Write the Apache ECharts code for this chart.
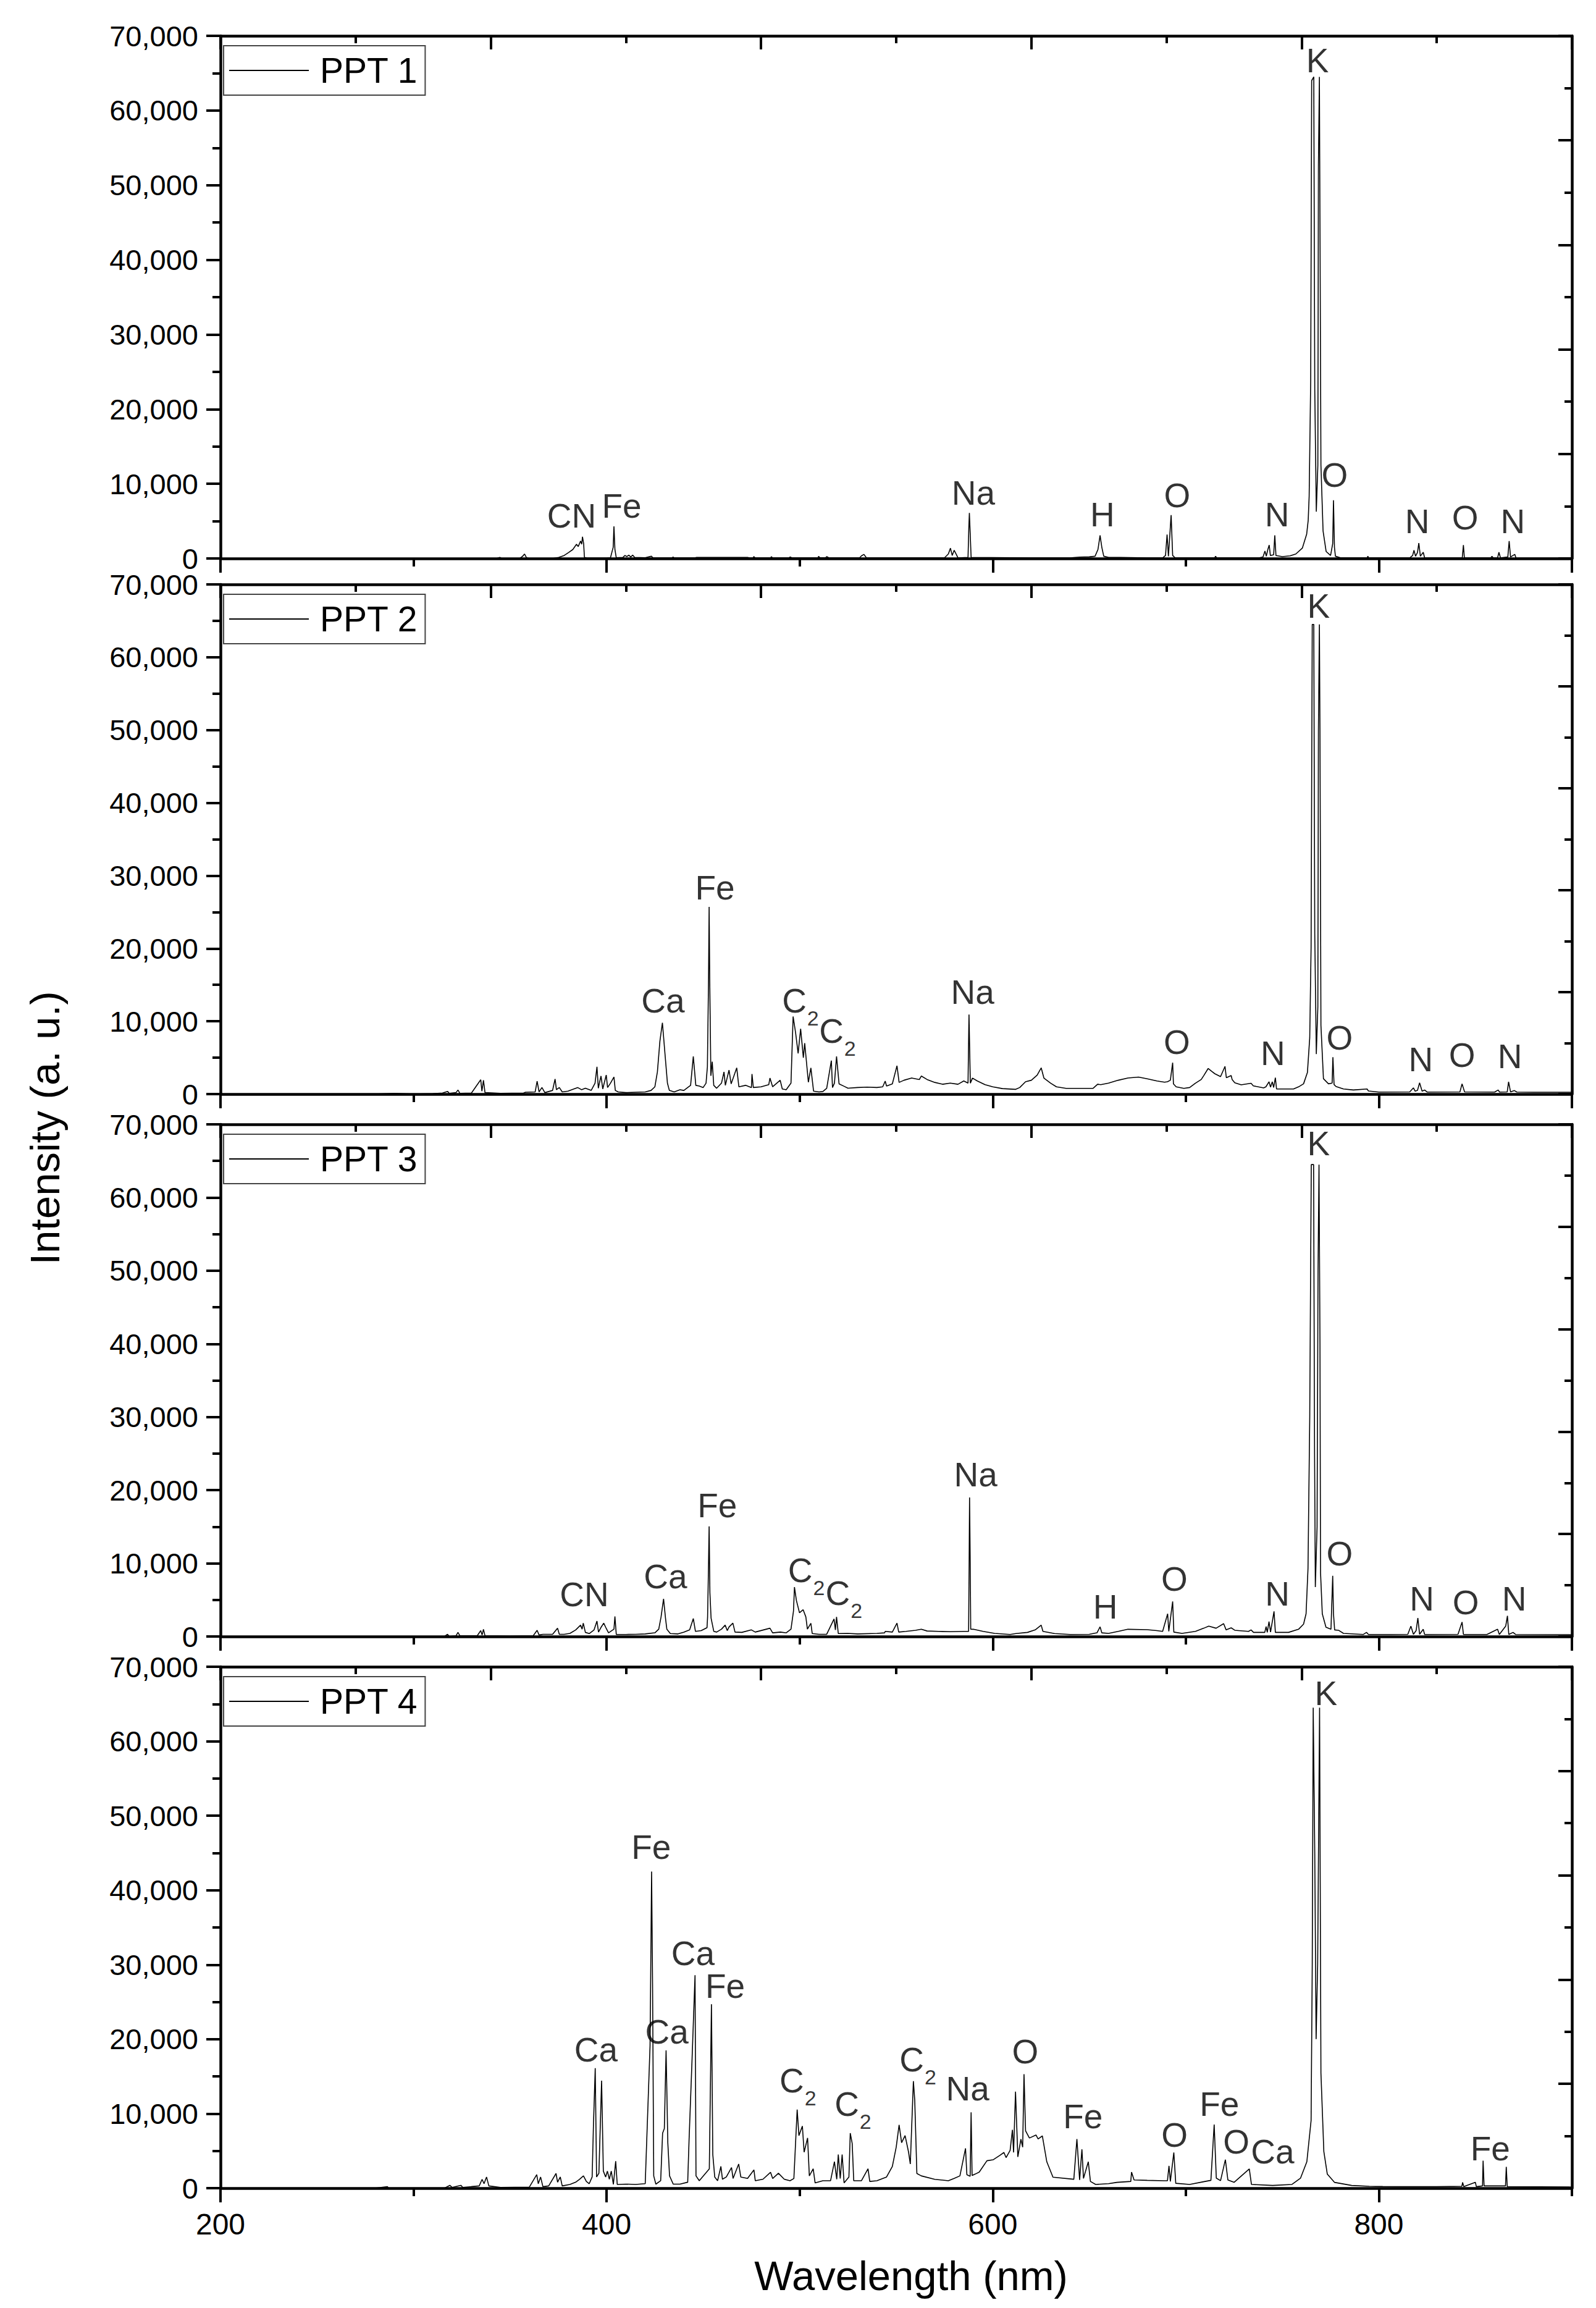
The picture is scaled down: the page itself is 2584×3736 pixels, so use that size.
<!DOCTYPE html>
<html>
<head>
<meta charset="utf-8">
<title>LIBS spectra PPT 1-4</title>
<script src="https://cdn.jsdelivr.net/npm/echarts@6/dist/echarts.min.js"></script>
<style>
  html, body { margin: 0; padding: 0; background: #fff; }
  #main { width: 2584px; height: 3736px; }
</style>
</head>
<body>
<div id="main"></div>
<script>
// axis ticks
const wavelengthTicks = [200, 400, 600, 800];
const intensityTicks = [0, 10000, 20000, 30000, 40000, 50000, 60000, 70000];
const seriesNames = ['PPT 1', 'PPT 2', 'PPT 3', 'PPT 4'];

// spectra, [wavelength nm, intensity a.u.]
const ppt1 = [[200,0],[300,0],[343,0],[344.7,150],[345.5,0],[355,0],[356.5,300],[357.5,600],[358.5,100],[360,0],[372,0],[375.2,150],[378,400],[380.3,800],[382.5,1200],[384.4,1900],[385.3,1600],[386.5,2340],[387.1,1900],[387.5,2900],[388.1,2000],[388.5,150],[390,60],[400,60],[402,100],[403.4,1500],[403.8,4300],[404.3,1200],[405,100],[408.5,150],[409.5,400],[410.5,250],[411.5,450],[412.5,200],[413.5,450],[414.5,150],[420,100],[423.2,300],[424,80],[434,80],[434.4,200],[435,80],[446,100],[446.6,150],[473,150],[474,80],[476,80],[476.2,250],[477,80],[485,80],[485.3,250],[486,80],[494.5,80],[495,200],[496,80],[509.5,100],[509.8,280],[510.5,100],[513.5,120],[514,250],[515,100],[531,80],[532,350],[533.3,550],[534.5,100],[575,80],[577,600],[578.1,1375],[579,400],[580,1100],[581.2,500],[582,80],[587.2,150],[587.6,4000],[587.9,6100],[588.3,3500],[588.8,150],[620,80],[640,80],[645,180],[650,220],[653,300],[654.5,1200],[655.6,3100],[656.5,1500],[657.5,300],[660,150],[666,150],[680,80],[688,80],[689.5,400],[690.3,3200],[691,300],[692.4,5800],[693.2,400],[694.5,80],[715,80],[715.4,300],[716,80],[738,80],[740,200],[741,1000],[741.7,300],[742.5,1200],[743.2,1800],[743.8,400],[745.5,500],[746.1,3100],[746.7,400],[750,250],[754,350],[757,600],[760.4,1400],[762.6,3240],[763.4,5100],[763.9,8340],[764.7,23860],[765.2,64000],[766.3,64500],[766.8,22700],[767.6,6260],[768.4,12500],[768.7,52600],[769.2,64500],[769.4,51400],[770,12500],[771.1,3700],[772.7,930],[775,400],[776.1,2000],[776.5,7800],[777,1500],[777.5,300],[780,100],[794,80],[794.3,300],[794.7,80],[816,80],[817.5,400],[818.2,1100],[819,300],[820,800],[820.7,2060],[821.5,300],[823,825],[823.7,80],[843.2,80],[843.8,1790],[844.3,80],[858,80],[858.6,300],[859.2,80],[861.5,80],[862.2,825],[863,80],[866.8,200],[867.5,2340],[868.2,200],[870.4,550],[871,80],[900,50]];

const ppt2 = [[200,0],[280,0],[290,100],[300,0],[310,50],[315,150],[317.6,370],[318.5,100],[322,200],[323,560],[324,100],[330,150],[334.8,1970],[335.4,400],[336.2,1900],[337,200],[345,100],[357,150],[358,250],[363,300],[364,1780],[365,300],[366.5,900],[368,200],[372,500],[373.3,2060],[374,600],[375.5,900],[377,300],[380,400],[383,700],[385,900],[387,600],[389,800],[392,500],[394,1500],[395,3750],[395.7,800],[396.5,1800],[397.1,2480],[398,700],[399.8,2620],[400.5,900],[402,1500],[403.8,2340],[404.5,500],[406,300],[410,200],[415,250],[420,300],[423,500],[425,1000],[426.3,3040],[427.6,7270],[428.9,9800],[430.3,5300],[431.5,1500],[432.5,500],[435,300],[438,600],[440,500],[442,900],[443.5,1200],[444.9,5160],[446.2,1200],[448,1100],[450,900],[451.5,1500],[452.2,3750],[452.8,15900],[453.1,25700],[453.4,15900],[454,2500],[454.7,4450],[455.5,1200],[457,800],[459.5,1500],[460.8,3040],[461.5,1200],[463.4,3300],[464.5,1400],[467.4,3600],[468.5,1000],[472,1200],[475,900],[475.3,2760],[476,900],[480,1000],[484,1300],[484.6,2200],[486,1000],[489.9,1900],[491,700],[493,600],[495.5,1500],[496.6,10650],[497.9,8400],[499.2,5580],[500.5,8960],[501.9,5000],[502.6,7000],[504.5,1630],[505.8,3600],[507.2,400],[510,300],[512,350],[514,800],[516.4,4590],[517,900],[518,1500],[519.1,5160],[520.4,1400],[523,1070],[525,800],[530,900],[535,950],[540,900],[543,1000],[544.3,1780],[545,1100],[548,1400],[550.4,3890],[551.5,1600],[554,1900],[558,2200],[562,2000],[563,2480],[566,2000],[570,1600],[574,1350],[578,1500],[582,1350],[585,1800],[587.2,1500],[587.7,10930],[588.4,1500],[589.5,2200],[592,1800],[596,1300],[600,1000],[605,750],[611.9,650],[614,900],[617,1700],[620,1900],[623,2600],[625.1,3600],[626.5,2200],[630,1500],[633,1000],[638,790],[645,790],[652,790],[654.3,1350],[656,1300],[660,1500],[665,1900],[670,2200],[675.5,2340],[680,2100],[685,1800],[689,1630],[690.5,1700],[692,1900],[693.2,4310],[693.6,1400],[695,1000],[699,790],[702,900],[705,1500],[708,2000],[709.3,2540],[711.6,3520],[712.6,3300],[713.5,3100],[715,2800],[718,2400],[720.3,3800],[721,2250],[723.5,2540],[724,2000],[725.4,1550],[728.7,1270],[733.8,1490],[735,1130],[740.3,850],[741.5,1000],[743.1,1690],[743.9,950],[744.8,1690],[745.5,900],[746.4,2250],[747,700],[755.8,700],[758.4,990],[761,1410],[763,2960],[764.2,7750],[764.9,20150],[765.5,64500],[766.3,64500],[766.8,22000],[767.6,5500],[768.4,12000],[768.7,50000],[769.2,64500],[769.5,50000],[770,9440],[771.3,2110],[773.9,1410],[775.8,1500],[776.2,5070],[776.8,1300],[777.8,1040],[781.7,700],[786.8,560],[793.9,700],[794.6,420],[800,280],[816,300],[817.9,850],[818.8,400],[820,500],[821.1,1550],[822.4,400],[823.7,560],[825,280],[842,300],[843.1,1410],[844.4,300],[860,280],[861.8,560],[862.5,280],[866.5,300],[867.2,1690],[868.2,300],[870.2,480],[871.5,280],[880,250],[900,250]];

const ppt3 = [[200,0],[300,0],[316,0],[317.6,300],[318.5,0],[322,100],[323,560],[324,100],[333,100],[334.8,800],[335.5,200],[336.2,985],[337,100],[350,50],[362,100],[364,845],[365,200],[367,300],[372,300],[374.6,1130],[375.5,300],[378,300],[381,420],[384,900],[386.5,1550],[387.3,1000],[387.9,1830],[389,560],[391,400],[393.5,900],[395,2110],[395.8,600],[397,1200],[398.5,1830],[399.8,1100],[401,500],[403.8,1000],[404.3,2730],[405,280],[410,280],[415,300],[420,350],[425,500],[427,1000],[428.2,2670],[429.5,5150],[430.5,2500],[431.2,985],[433,400],[437,350],[440,600],[443,900],[444.9,2450],[446,700],[449,800],[452,1200],[452.3,2670],[452.8,10000],[453.1,15060],[453.5,6000],[454.1,2530],[455.5,700],[457,600],[459.5,1000],[461.4,1550],[462.5,800],[463.4,1300],[465.4,1830],[466.5,600],[470,560],[475,900],[477,600],[484.6,1130],[486,500],[490,600],[493,500],[495.5,1000],[496.8,3500],[497.3,6750],[498.3,4930],[499.9,3240],[501.8,3660],[503.2,2670],[504,1000],[505.8,1800],[506.5,400],[510,300],[514,300],[517.8,2390],[518.5,900],[519.1,2670],[520,400],[525,420],[530,350],[540,420],[544,500],[544.3,700],[548,600],[550.4,1830],[551.3,600],[555,700],[560,850],[563,985],[566,750],[572,700],[578,650],[585,700],[587.5,700],[587.8,11000],[588,19000],[588.3,11000],[588.6,1000],[590,985],[595,700],[601,420],[609,280],[612,400],[618,560],[622,900],[625.1,1550],[626,700],[632,400],[640,280],[650,300],[654,500],[655.6,1320],[656.5,500],[660,420],[665,700],[670,985],[680,930],[685,800],[688,700],[690.6,3100],[691.2,700],[693.2,4790],[693.8,600],[698,420],[705,700],[709.3,1130],[711.9,1410],[715.7,1130],[719.6,1750],[720.9,900],[723.5,1180],[725.4,850],[732.5,700],[733.8,900],[735.1,560],[740.9,560],[741.6,1350],[742.2,560],[743.1,2030],[743.9,600],[745.7,3430],[746.4,560],[753.2,560],[758.4,985],[761,1690],[762.3,3100],[763.3,9290],[764.2,30000],[765,64500],[766.2,64500],[766.7,25000],[767.1,6760],[768,15000],[768.5,50000],[769,64500],[769.5,40000],[769.8,8700],[770.7,3100],[772.6,1270],[775.2,985],[776.1,8300],[776.5,3100],[777.1,900],[779.1,850],[781.7,420],[792,280],[793.6,560],[794.6,280],[805.6,280],[815,300],[816.6,1410],[817.9,300],[819.3,800],[820.2,2530],[821.1,300],[823,985],[823.7,280],[841,300],[843.1,1970],[843.8,280],[856,280],[861.5,985],[862.4,280],[865.7,1410],[866.6,2820],[867.3,280],[869.5,560],[870.8,280],[900,250]];

const ppt4 = [[200,0],[280,0],[286.5,200],[287,0],[316,0],[318.8,380],[320,100],[324.5,380],[325.5,100],[334,300],[335.5,1180],[336.5,600],[337.8,1500],[339,300],[345,100],[360,150],[363.8,1810],[364.6,600],[365.8,1500],[367,200],[370,300],[373.8,1970],[374.6,800],[376,1500],[377,300],[381,500],[384,800],[386,1200],[388,1650],[389.5,900],[391,600],[392.5,1500],[393.2,8650],[394.1,16100],[394.8,1500],[396,2000],[397.4,14430],[398.3,2290],[399.5,1500],[400.4,2290],[401.4,1200],[402.4,2290],[403.5,500],[404.7,3620],[405.5,500],[410,540],[415,500],[420,600],[422.5,19140],[423.3,42500],[423.8,27400],[424.4,1650],[425.5,540],[428,1000],[429,7380],[429.9,8010],[430.8,18500],[431.7,6100],[432.6,1650],[434.5,540],[438,540],[442,800],[442.7,6420],[444.2,16910],[445.8,28600],[446.3,1650],[448,1000],[453.2,2600],[454.3,24700],[455,4510],[456,1500],[457.5,1000],[459.2,2920],[460,1200],[462,1500],[464.7,2770],[465.5,1300],[468.4,3240],[469.5,1500],[473,1300],[476.3,2450],[477,1000],[481,1200],[484.9,2130],[486,1300],[489,2000],[492,1200],[495,1000],[497,1300],[498.7,10550],[499.6,7060],[501.4,8330],[502.3,4830],[504.1,6740],[505,1650],[507,2600],[508,700],[512,1000],[516,1000],[518,3560],[519.2,1200],[520,4510],[521,1300],[522,4510],[523,700],[525.5,1500],[526.2,7380],[527.2,6000],[528,1000],[532,1000],[535.4,2600],[536.3,900],[540,1000],[545,1500],[548,2920],[550,5500],[551.5,8490],[552.8,6100],[554.6,7060],[556.4,4830],[557.3,3240],[558.9,14370],[559.6,11830],[560.7,1970],[563,1650],[570,1180],[577,1000],[580,1300],[583,1650],[585.9,5340],[586.6,1800],[588.3,1600],[588.8,10190],[589.3,1700],[591,1900],[593,2160],[597,3680],[600.3,3820],[603.6,4380],[605.8,4790],[606.9,4100],[609,5070],[610.2,7840],[610.8,4800],[611.8,12960],[613,4200],[614.6,6590],[615.5,5500],[616.2,15310],[617,7700],[619,6730],[622.4,7140],[623.5,6600],[625.7,7010],[628,3540],[631.2,1470],[642,1190],[643.6,6590],[645,1100],[646.2,5210],[647,1300],[649.5,3540],[650.6,900],[653.3,500],[660,600],[664.3,780],[671.5,900],[671.9,2160],[673.2,1100],[680,1050],[688.7,1000],[690.5,1000],[691.3,2990],[692,900],[693.8,4790],[694.8,650],[702,500],[710,900],[713,1050],[714.7,8530],[715.8,1350],[718,1000],[720.5,3820],[721.8,1100],[725,780],[732.9,2580],[734,500],[745,360],[755,500],[759.4,1330],[762.7,3540],[764.9,9080],[765.5,30000],[766,64500],[766.8,45000],[767.5,20000],[768.3,30000],[769.3,64500],[770,15450],[771.5,4930],[773.3,1880],[777,780],[785.9,360],[795,250],[802,220],[810,200],[830,200],[843,250],[843.4,780],[844,200],[850,780],[850.5,200],[853.7,300],[854,3680],[854.5,300],[865.6,300],[866,2850],[866.5,200],[900,150]];

// peak labels, [text, wavelength nm, intensity]
const labels1 = [['CN',381.9,5700],['Fe',407.8,7000],['Na',590,8750],['H',656.8,5850],['O',695.5,8400],['N',747.3,5850],['K',768.2,66700],['O',777.1,11200],['N',819.9,4980],['O',844.7,5430],['N',869.4,4980]];
const labels2 = [['Ca',429.2,12770],['Fe',456.1,28330],['C2',500.4,12770],['C2',519.6,8620],['Na',589.6,13980],['O',695.4,7130],['N',745.1,5580],['K',768.8,67000],['O',779.7,7750],['N',821.7,4730],['O',843.1,5350],['N',867.9,5210]];
const labels3 = [['CN',388.4,5710],['Ca',430.5,8160],['Fe',457.3,17880],['C2',503.5,9010],['C2',522.9,5910],['Na',591.2,22100],['H',658.3,4030],['O',694.1,7830],['N',747.4,5850],['K',768.8,67400],['O',779.7,11340],['N',822.3,5150],['O',845,4640],['N',870.1,5150]];
const labels4 = [['Ca',394.5,18600],['Fe',423.1,45780],['Ca',431.2,20980],['Ca',444.7,31540],['Fe',461.4,27090],['C2',499.1,14460],['C2',527.6,11290],['C2',561.2,17230],['Na',587,13370],['O',616.8,18360],['Fe',646.7,9640],['O',694.2,7140],['Fe',717.4,11300],['O',726.2,6260],['Ca',745,4930],['K',772.6,66400],['Fe',857.7,5340]];

const spectra = [ppt1, ppt2, ppt3, ppt4];
const peakLabels = [labels1, labels2, labels3, labels4];

const FONT = 'Arial, "Liberation Sans", Helvetica, sans-serif';
// panel placement (px)
const panels = [
  { top: 58, height: 846 },
  { top: 946, height: 825 },
  { top: 1820, height: 829 },
  { top: 2698, height: 844 }
];

const axisLine = { show: true, onZero: false, lineStyle: { color: '#000', width: 4.5 } };
const tickLine = { color: '#000', width: 4 };
const withComma = v => String(v).replace(/\B(?=(\d{3})+(?!\d))/g, ',');

const option = {
  animation: false,
  backgroundColor: '#fff',
  grid: [],
  xAxis: [],
  yAxis: [],
  legend: [],
  series: [],
  graphic: [
    {
      type: 'text', x: 72, y: 1826, rotation: Math.PI / 2,
      style: { text: 'Intensity (a. u.)', fontSize: 67, fontFamily: FONT, fill: '#000', align: 'center', verticalAlign: 'middle' }
    },
    {
      type: 'text', x: 1475, y: 3683,
      style: { text: 'Wavelength (nm)', fontSize: 67, fontFamily: FONT, fill: '#000', align: 'center', verticalAlign: 'middle' }
    }
  ]
};

const xStep = wavelengthTicks[1] - wavelengthTicks[0];
const yStep = intensityTicks[1] - intensityTicks[0];

panels.forEach((p, i) => {
  const last = i === panels.length - 1;
  option.grid.push({ left: 357, right: 39, top: p.top, height: p.height, outerBoundsMode: 'none' });

  // bottom axis, major ticks + labels
  option.xAxis.push({
    gridIndex: i, type: 'value', position: 'bottom',
    min: wavelengthTicks[0], max: 900, interval: xStep,
    axisLine: axisLine,
    axisTick: { show: true, inside: false, length: 23, lineStyle: tickLine },
    axisLabel: { show: last, margin: 34, fontSize: 48, color: '#000', fontFamily: FONT, showMaxLabel: false },
    splitLine: { show: false }
  });
  // bottom axis, minor ticks every 100 nm
  option.xAxis.push({
    gridIndex: i, type: 'value', position: 'bottom',
    min: wavelengthTicks[0], max: 900, interval: xStep / 2,
    axisLine: { show: false },
    axisTick: { show: true, inside: false, length: 13, lineStyle: tickLine },
    axisLabel: { show: false },
    splitLine: { show: false }
  });
  // top frame axis
  option.xAxis.push({
    gridIndex: i, type: 'value', position: 'top',
    min: 0, max: 5, interval: 1,
    axisLine: axisLine,
    axisTick: { show: true, inside: true, length: 22, lineStyle: tickLine },
    minorTick: { show: true, splitNumber: 2, length: 12, lineStyle: tickLine },
    axisLabel: { show: false },
    splitLine: { show: false }, minorSplitLine: { show: false }
  });

  option.yAxis.push({
    gridIndex: i, type: 'value', position: 'left',
    min: intensityTicks[0], max: intensityTicks[intensityTicks.length - 1], interval: yStep,
    axisLine: axisLine,
    axisTick: { show: true, inside: false, length: 23, lineStyle: tickLine },
    minorTick: { show: true, splitNumber: 2, length: 13, lineStyle: tickLine },
    axisLabel: { margin: 36, fontSize: 47, color: '#000', fontFamily: FONT, formatter: withComma },
    splitLine: { show: false }, minorSplitLine: { show: false }
  });
  option.yAxis.push({
    gridIndex: i, type: 'value', position: 'right',
    min: 0, max: 5, interval: 1,
    axisLine: axisLine,
    axisTick: { show: true, inside: true, length: 22, lineStyle: tickLine },
    minorTick: { show: true, splitNumber: 2, length: 12, lineStyle: tickLine },
    axisLabel: { show: false },
    splitLine: { show: false }, minorSplitLine: { show: false }
  });

  option.legend.push({
    left: 362, top: p.top + 16,
    padding: [11, 12, 11, 9],
    borderColor: '#444', borderWidth: 2,
    icon: 'rect',
    itemWidth: 129, itemHeight: 2,
    itemStyle: { color: '#000', borderWidth: 0 },
    selectedMode: false,
    textStyle: { fontSize: 57, lineHeight: 58, color: '#000', fontFamily: FONT, padding: [0, 0, 0, 13] },
    data: [seriesNames[i]]
  });

  option.series.push({
    name: seriesNames[i],
    type: 'line',
    xAxisIndex: i * 3, yAxisIndex: i * 2,
    data: spectra[i],
    symbol: 'none', showSymbol: false,
    lineStyle: { color: '#000', width: 1.6 },
    itemStyle: { color: '#000' },
    silent: true
  });

  option.series.push({
    name: 'labels ' + (i + 1),
    type: 'scatter',
    xAxisIndex: i * 3, yAxisIndex: i * 2,
    data: peakLabels[i].map(d => [d[1], d[2], d[0]]),
    symbol: 'circle', symbolSize: 1,
    itemStyle: { color: 'transparent' },
    silent: true,
    label: {
      show: true, position: 'inside', color: '#000',
      fontSize: 55, fontFamily: FONT,
      formatter: prm => prm.data[2] === 'C2' ? '{c|C}{s|2}' : prm.data[2],
      rich: {
        c: { fontSize: 55, lineHeight: 60, fontFamily: FONT, color: '#000' },
        s: { fontSize: 34, lineHeight: 34, fontFamily: FONT, color: '#000', padding: [56, 0, 0, 1] }
      }
    }
  });
});

const chart = echarts.init(document.getElementById('main'), null, { renderer: 'svg' });
chart.setOption(option);
</script>
</body>
</html>
